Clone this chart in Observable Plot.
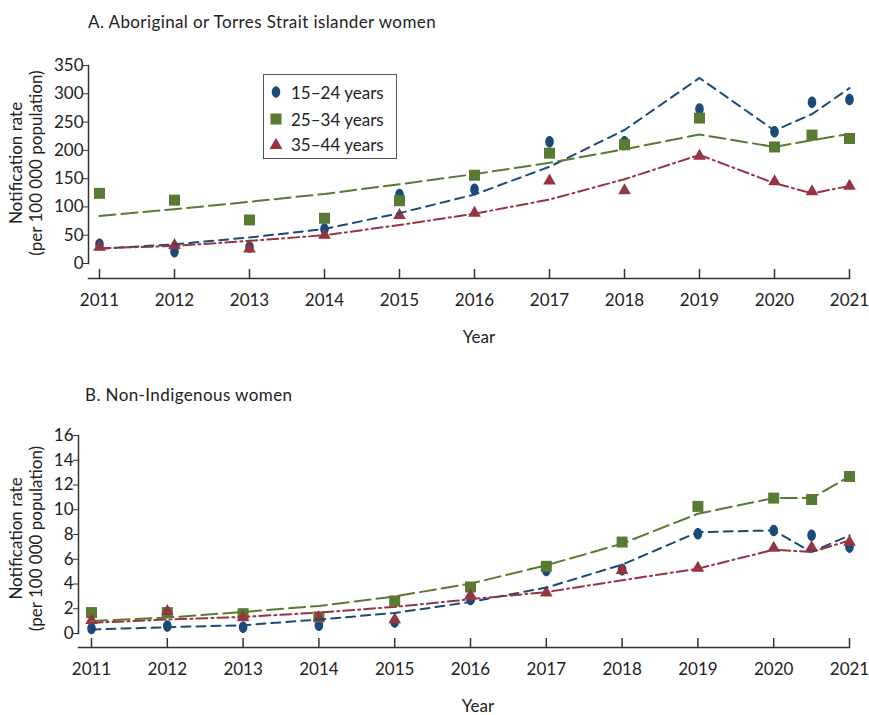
<!DOCTYPE html>
<html>
<head>
<meta charset="utf-8">
<script src="https://cdn.jsdelivr.net/npm/d3@7"></script>
<script src="https://cdn.jsdelivr.net/npm/@observablehq/plot@0.6"></script>
<style>
  body { margin: 0; background: #fff; font-family: Lato, "Open Sans", sans-serif; color: #222; }
  #wrap { position: relative; width: 869px; height: 715px; }
  .title { position: absolute; font-size: 17px; letter-spacing: 0.4px; white-space: nowrap; }
  .panel { position: absolute; left: 0; }
  #legend { position: absolute; left: 263px; top: 74px; width: 132px; height: 83px; border: 1px solid #555; background: #fff; }
  #legend .row { position: absolute; left: 0; height: 20px; display: flex; align-items: center; font-size: 17px; white-space: nowrap; }
  #legend svg { width: 14px; height: 14px; margin-left: 5px; margin-right: 8px; }
</style>
</head>
<body>
<div id="wrap">
  <div class="title" style="left:88px; top:11px;">A. Aboriginal or Torres Strait islander women</div>
  <div class="panel" id="panelA" style="top:40px;"></div>
  <div class="title" style="left:85px; top:384px;">B. Non-Indigenous women</div>
  <div class="panel" id="panelB" style="top:410px;"></div>
  <div id="legend"></div>
</div>
<script>
// ---- data ----
const years = [2011, 2012, 2013, 2014, 2015, 2016, 2017, 2018, 2019, 2020, 2020.5, 2021];
const tickYears = [2011, 2012, 2013, 2014, 2015, 2016, 2017, 2018, 2019, 2020, 2021];
const ageGroups = ["15–24 years", "25–34 years", "35–44 years"];

// Panel A: Aboriginal or Torres Strait islander women (observed rates)
const a15 = [34, 21, 29, 61, 122, 131, 215, 215, 273, 233, 285, 290];
const a25 = [124, 112, 77, 80, 111, 156, 195, 210, 257, 206, 227, 221];
const a35 = [29, 32, 26, 50, 85, 89, 146, 129, 190, 145, 127, 137];
// Panel A fitted trends
const a15t = [26, 34, 46, 61, 89, 122, 171, 236, 328, 235, 264, 310];
const a25t = [84, 96, 109, 123, 140, 158, 178, 202, 228, 206, 218, 229];
const a35t = [27, 31, 40, 50, 68, 88, 113, 149, 192, 142, 124, 137];
const aTicks = [0, 50, 100, 150, 200, 250, 300, 350];

// Panel B: Non-Indigenous women (observed rates)
const b15 = [0.4, 0.6, 0.5, 0.67, 0.93, 2.74, 5.1, 5.16, 8.06, 8.33, 7.93, 6.98];
const b25 = [1.69, 1.69, 1.6, 1.34, 2.63, 3.76, 5.43, 7.39, 10.27, 10.94, 10.83, 12.69];
const b35 = [1.07, 1.8, 1.29, 1.29, 1.13, 3.09, 3.28, 5.1, 5.29, 6.9, 6.94, 7.39];
// Panel B fitted trends
const b15t = [0.32, 0.51, 0.67, 1.13, 1.66, 2.55, 3.71, 5.56, 8.19, 8.33, 6.58, 7.93];
const b25t = [1.02, 1.29, 1.74, 2.23, 3.0, 4.03, 5.51, 7.26, 9.68, 10.94, 10.94, 12.69];
const b35t = [0.86, 1.13, 1.34, 1.69, 2.15, 2.77, 3.35, 4.3, 5.24, 6.77, 6.58, 7.52];
const bTicks = [0, 2, 4, 6, 8, 10, 12, 14, 16];

const yLabel = "Notification rate\n(per 100 000 population)";
const xLabel = "Year";

// ---- styles ----
const colors = ["#1b4a78", "#587a32", "#963540"];
const dashes = ["9,6", "16,6", "11,4,2,4"];

const ellipse = {
  draw(ctx, size) {
    const r = Math.sqrt(size / Math.PI);
    const rx = r * 0.78, ry = r * 1.05, k = 0.5523;
    ctx.moveTo(rx, 0);
    ctx.bezierCurveTo(rx, ry * k, rx * k, ry, 0, ry);
    ctx.bezierCurveTo(-rx * k, ry, -rx, ry * k, -rx, 0);
    ctx.bezierCurveTo(-rx, -ry * k, -rx * k, -ry, 0, -ry);
    ctx.bezierCurveTo(rx * k, -ry, rx, -ry * k, rx, 0);
    ctx.closePath();
  }
};
const symbols = [ellipse, "square", "triangle"];
const radii = [5.5, 6.2, 4.7];

function rows(vals) { return years.map((x, i) => ({x, y: vals[i]})); }

function panel({obs, trend, domain, ticks, height, marginTop, marginBottom, marginLeft, insetLeft, insetBottom, yLabelDx, yLabelDy, xLabelDx}) {
  const frameH = height - marginTop - marginBottom;
  const marks = [
    Plot.frame({anchor: "left", insetBottom, stroke: "#333", strokeWidth: 1.5}),
    Plot.frame({anchor: "bottom", stroke: "#333", strokeWidth: 1.5}),
    Plot.tickX(tickYears, {x: d => d, insetTop: frameH - 9, stroke: "#333", strokeWidth: 1.5}),
    Plot.axisX({ticks: tickYears, tickFormat: d => String(d), tickSize: 0, tickPadding: 15, label: null, fill: "#222"}),
    Plot.axisY({ticks, tickSize: 5, tickPadding: 0, label: null, stroke: "#333", fill: "#222"}),
    Plot.text([yLabel], {text: d => d, frameAnchor: "left", textAnchor: "middle", lineAnchor: "middle", rotate: -90, lineHeight: 1.15, dx: yLabelDx, dy: yLabelDy, fill: "#222"}),
    Plot.text([xLabel], {text: d => d, frameAnchor: "bottom", textAnchor: "middle", lineAnchor: "middle", dy: 59, dx: xLabelDx, fill: "#222"})
  ];
  obs.forEach((vals, i) => {
    marks.push(Plot.dot(rows(vals), {x: "x", y: "y", symbol: () => symbols[i], r: radii[i], fill: colors[i], stroke: "none"}));
  });
  trend.forEach((vals, i) => {
    marks.push(Plot.line(rows(vals), {x: "x", y: "y", stroke: colors[i], strokeWidth: 2, strokeDasharray: dashes[i]}));
  });
  return Plot.plot({
    width: 869,
    height,
    marginTop,
    marginBottom,
    marginLeft,
    marginRight: 20,
    style: {fontSize: "17px", fontFamily: "Lato, 'Open Sans', sans-serif", background: "transparent", overflow: "visible"},
    x: {domain: [2011, 2021], insetLeft},
    y: {domain, insetBottom},
    symbol: {type: "identity"},
    marks
  });
}

document.getElementById("panelA").append(panel({
  obs: [a15, a25, a35], trend: [a15t, a25t, a35t], domain: [0, 350], ticks: aTicks,
  height: 320, marginTop: 25, marginBottom: 82, marginLeft: 88, insetLeft: 11, insetBottom: 15,
  yLabelDx: -63, yLabelDy: -9, xLabelDx: 10
}));
document.getElementById("panelB").append(panel({
  obs: [b15, b25, b35], trend: [b15t, b25t, b35t], domain: [0, 16], ticks: bTicks,
  height: 305, marginTop: 25, marginBottom: 68, marginLeft: 78, insetLeft: 13, insetBottom: 14,
  yLabelDx: -53, yLabelDy: -3, xLabelDx: 14
}));

// ---- legend ----
const legend = document.getElementById("legend");
const legendSvgs = [
  `<svg viewBox="-7 -7 14 14"><ellipse rx="4.3" ry="5.8" fill="${colors[0]}"/></svg>`,
  `<svg viewBox="-7 -7 14 14"><rect x="-5.5" y="-5.5" width="11" height="11" fill="${colors[1]}"/></svg>`,
  `<svg viewBox="-7 -7 14 14"><path d="M0,-6.2L6.4,5L-6.4,5Z" fill="${colors[2]}"/></svg>`
];
const rowTops = [7, 34, 59];
ageGroups.forEach((g, i) => {
  const row = document.createElement("div");
  row.className = "row";
  row.style.top = rowTops[i] + "px";
  row.innerHTML = legendSvgs[i] + `<span>${g}</span>`;
  legend.append(row);
});
</script>
</body>
</html>
